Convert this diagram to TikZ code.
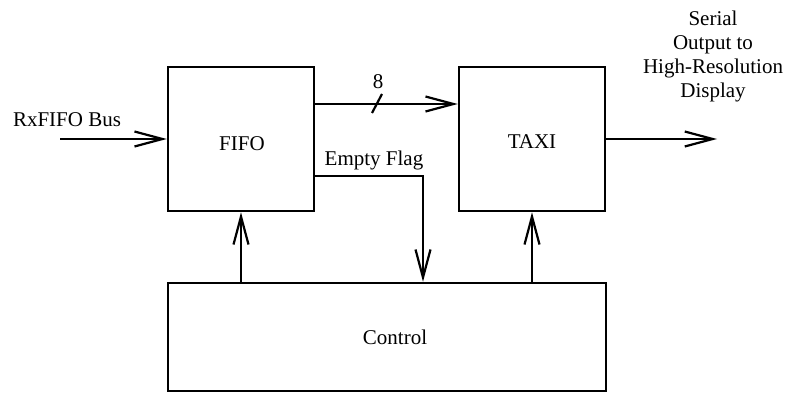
\documentclass[tikz,border=0pt]{standalone}
\usepackage{fontspec}
\setmainfont{Liberation Serif}
\usetikzlibrary{arrows.meta,calc}
\begin{document}
\begin{tikzpicture}[x=1pt,y=-1pt,
  box/.style={draw,line width=2.5pt,minimum width=146pt,minimum height=144pt,inner sep=0pt},
  lbl/.style={font=\fontsize{21}{24}\selectfont,inner sep=0pt},
  arr/.style={line width=2.2pt,-{Straight Barb[length=28pt,width=15pt,line width=2.2pt]}},
  wire/.style={line width=2.2pt}]
\useasboundingbox (0,0) rectangle (790,393);
\node[box] (fifo) at (241,139) {};
\node[box] (taxi) at (532,139) {};
\node[draw,line width=2.5pt,minimum width=438pt,minimum height=108pt,inner sep=0pt] (ctrl) at (387,337) {};
\node[lbl] (fifot) at (242,144) {FIFO};
\node[lbl] (taxit) at (532,142) {TAXI};
\node[lbl] (ctrlt) at (395,337) {Control};
\node[lbl] (rx) at (67,120) {RxFIFO Bus};
\node[lbl] (eight) at (378,82) {8};
\node[lbl] (eft) at (374,160) {Empty Flag};
\node[lbl,align=center] (ser) at (713,56) {Serial\\Output to\\High-Resolution\\Display};
\coordinate (in) at (60,139);
\coordinate (bus) at (377,104);
\coordinate (ef) at (423,176);
\coordinate (out) at (717,139);
\draw[arr] (in) -- (in -| fifo.west);
\draw[arr] (fifo.east |- bus) -- (taxi.west |- bus);
\draw[wire] ($(bus)+(-5,9)$) -- ($(bus)+(5,-10)$);
\draw[arr] (fifo.east |- ef) -- (ef) -- (ef |- ctrl.north);
\draw[arr] (ctrl.north -| fifo.south) -- (fifo.south);
\draw[arr] (ctrl.north -| taxi.south) -- (taxi.south);
\draw[arr] (taxi.east) -- (out);
\end{tikzpicture}
\end{document}
